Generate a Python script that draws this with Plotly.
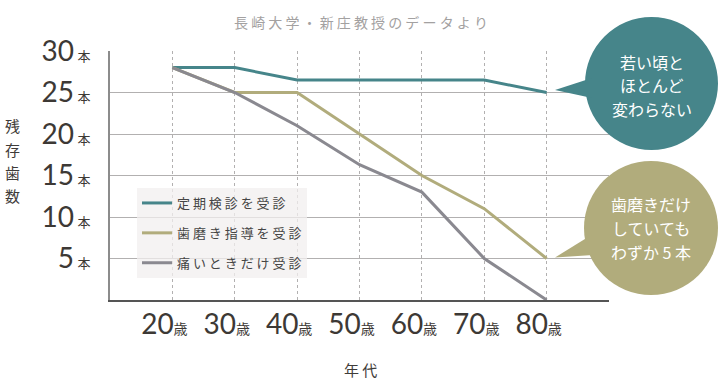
import plotly.graph_objects as go

# ---- data ----
ages = [20, 30, 40, 50, 60, 70, 80]
age_labels = ["20", "30", "40", "50", "60", "70", "80"]
regular_checkup = [28, 28, 26.5, 26.5, 26.5, 26.5, 25]
brushing_guidance = [28, 25, 25, 20, 15, 11, 5]
only_when_pain = [28, 25, 21, 16.3, 13, 5, 0]
series_names = ["定期検診を受診", "歯磨き指導を受診", "痛いときだけ受診"]
y_ticks = [5, 10, 15, 20, 25, 30]
grid_y = [5, 10, 15, 20, 25]
x_grid = [20, 30, 40, 50, 60, 70, 80, 90]

TEAL = "#46858a"
OLIVE = "#b1ac7c"
GRAY = "#8a8990"
DIGIT_FONT = "Lato, 'Noto Sans CJK JP'"
JP_FONT = "'Noto Sans CJK JP', 'Noto Sans', sans-serif"

W, H = 720, 390
PL, PR, PT, PB = 110, 609, 51, 300


def px(x):
    return (x - PL) / (PR - PL)


def py(y):
    return (PB - y) / (PB - PT)


def spaced(s):
    return " ".join(list(s))


def note(text, x, y, size, color):
    return dict(text=text, xref="paper", yref="paper", x=px(x), y=py(y),
                xanchor="center", yanchor="middle", showarrow=False,
                font=dict(family=JP_FONT, size=size, color=color))


fig = go.Figure()

# invisible trace so main y axis (grid) exists
fig.add_trace(go.Scatter(x=[None], y=[None], xaxis="x", yaxis="y",
                         showlegend=False, hoverinfo="skip"))

for name, vals, col in zip(series_names,
                           [regular_checkup, brushing_guidance, only_when_pain],
                           [TEAL, OLIVE, GRAY]):
    fig.add_trace(go.Scatter(
        x=ages, y=vals, mode="lines", name=spaced(name),
        line=dict(color=col, width=3), yaxis="y2", legendgroup=name,
        hoverinfo="skip"))

x_ticktext = [f"{a}<span style='font-size:14px'>歳</span>" for a in age_labels] + [""]
y_ticktext = [f"{v}<span style='font-size:13px'> 本</span>" for v in y_ticks]

shapes = []
# bubbles
for (cx, cy, r, col, tail) in [
    (651.5, 83.5, 66.5, TEAL, [(555, 90), (592, 78), (592, 98)]),
    (651, 228, 67, OLIVE, [(555, 257.5), (593, 234), (593, 255)]),
]:
    shapes.append(dict(type="circle", xref="paper", yref="paper",
                       x0=px(cx - r), x1=px(cx + r), y0=py(cy + r), y1=py(cy - r),
                       fillcolor=col, line=dict(width=0), layer="above"))
    path = "M " + " L ".join(f"{px(a):.5f},{py(b):.5f}" for a, b in tail) + " Z"
    shapes.append(dict(type="path", xref="paper", yref="paper", path=path,
                       fillcolor=col, line=dict(width=0), layer="above"))

annotations = [note(spaced("長崎大学・新庄教授のデータより"), 361, 22, 14, "#a3a1a1")]
for i, ch in enumerate("残存歯数"):
    annotations.append(note(ch, 12, 126 + i * 23.3, 15, "#3f3c39"))
annotations.append(note("年 代", 360, 369, 15, "#3f3c39"))
for i, line in enumerate(["若い頃と", "ほとんど", "変わらない"]):
    annotations.append(note(line, 652, 62 + i * 23.3, 16, "white"))
for i, line in enumerate(["歯磨きだけ", "していても", "わずか 5 本"]):
    annotations.append(note(line, 651, 203.5 + i * 24.3, 16, "white"))

fig.update_layout(
    width=W, height=H,
    margin=dict(l=PL, r=W - PR, t=PT, b=H - PB, autoexpand=False),
    paper_bgcolor="white", plot_bgcolor="rgba(0,0,0,0)",
    showlegend=True,
    legend=dict(x=px(137), y=py(188), xanchor="left", yanchor="top",
                bgcolor="rgba(242,239,239,0.75)", borderwidth=0,
                font=dict(family=JP_FONT, size=13, color="#454545"),
                traceorder="grouped", tracegroupgap=10, itemwidth=30),
    xaxis=dict(range=[10, 90], tickvals=x_grid, ticktext=x_ticktext, automargin=False,
               showgrid=True, gridcolor="#b2b0b0", gridwidth=1, griddash="3px,3px",
               showline=True, linecolor="#555555", linewidth=2, zeroline=False,
               ticks="", ticklabelshift=-8, ticklabelstandoff=-2,
               tickfont=dict(family=DIGIT_FONT, size=28, color="#3d3935")),
    yaxis=dict(range=[0, 30], tickvals=grid_y, showticklabels=False, automargin=False,
               showgrid=True, gridcolor="#b2b0b0", gridwidth=1,
               showline=False, zeroline=False, ticks=""),
    yaxis2=dict(range=[0, 30], overlaying="y", side="left", tickvals=y_ticks,
                ticktext=y_ticktext, showgrid=False, zeroline=False, automargin=False,
                showline=True, linecolor="#8c8c8c", linewidth=2, ticks="",
                ticklabelstandoff=12,
                tickfont=dict(family=DIGIT_FONT, size=28, color="#3d3935")),
    shapes=shapes, annotations=annotations,
)

fig.write_html("out.html", config={"displayModeBar": False},
               post_script="document.body.style.margin='0';")
